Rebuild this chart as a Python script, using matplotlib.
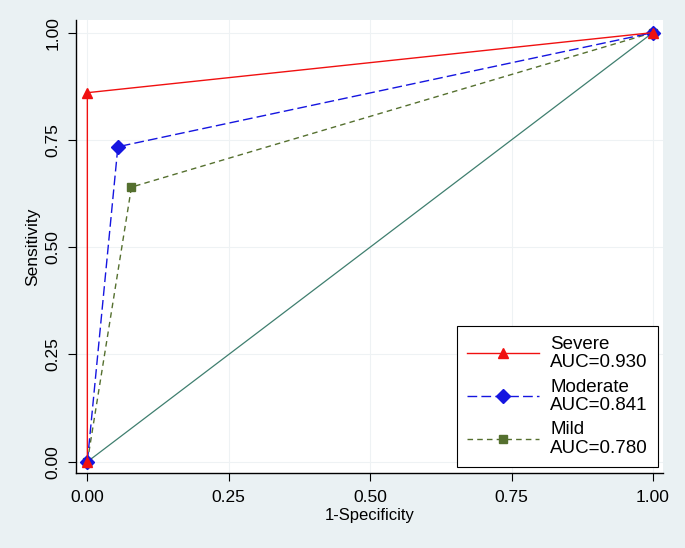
import matplotlib
matplotlib.use("Agg")
import matplotlib.pyplot as plt

# ROC points (1-specificity, sensitivity)
severe_x = [0.0, 0.0, 1.0]
severe_y = [0.0, 0.86, 1.0]
moderate_x = [0.0, 0.054, 1.0]
moderate_y = [0.0, 0.734, 1.0]
mild_x = [0.0, 0.078, 1.0]
mild_y = [0.0, 0.640, 1.0]
ref_x = [0.0, 1.0]
ref_y = [0.0, 1.0]

labels = ["Severe\nAUC=0.930", "Moderate\nAUC=0.841", "Mild\nAUC=0.780"]
ticks = [0.0, 0.25, 0.5, 0.75, 1.0]
tick_labels = ["0.00", "0.25", "0.50", "0.75", "1.00"]

plt.rcParams["font.family"] = ["Liberation Sans", "DejaVu Sans"]

fig = plt.figure(figsize=(6.85, 5.48), dpi=100, facecolor="#eaf1f3")
ax = fig.add_axes([0.111, 0.137, 0.857, 0.827])
ax.set_facecolor("white")

ax.plot(ref_x, ref_y, color="#3f7f6f", linewidth=0.9)
ax.plot(mild_x, mild_y, color="#55702f", linestyle=(0, (4, 3)), linewidth=1.0,
        marker="s", markersize=6, label=labels[2])
ax.plot(moderate_x, moderate_y, color="#1515e0", linestyle=(0, (7, 3)), linewidth=1.0,
        marker="D", markersize=7, label=labels[1])
ax.plot(severe_x, severe_y, color="#f01010", linewidth=1.0,
        marker="^", markersize=7, label=labels[0])

ax.set_xlim(-0.02, 1.018)
ax.set_ylim(-0.026, 1.03)
ax.set_xticks(ticks)
ax.set_xticklabels(tick_labels)
ax.set_yticks(ticks)
ax.set_yticklabels(tick_labels, rotation=90, va="center")
ax.tick_params(labelsize=12.5, length=6, width=0.8, color="black")
ax.tick_params(axis="x", pad=6.5)
ax.tick_params(axis="y", pad=5)
ax.grid(True, color="#eef2f4", linewidth=0.8)
ax.set_axisbelow(True)

for side in ["top", "right"]:
    ax.spines[side].set_visible(False)
for side in ["left", "bottom"]:
    ax.spines[side].set_linewidth(1.0)

ax.set_xlabel("1-Specificity", fontsize=12, labelpad=2)
ax.set_ylabel("Sensitivity", fontsize=12.5, labelpad=4)

handles, labs = ax.get_legend_handles_labels()
order = [2, 1, 0]
leg = ax.legend([handles[i] for i in order], [labs[i] for i in order],
                loc="lower right", bbox_to_anchor=(0.992, 0.013), borderaxespad=0,
                fontsize=13.5, handlelength=3.85, numpoints=1, fancybox=False,
                framealpha=1, edgecolor="black", labelspacing=0.4,
                handletextpad=0.6, borderpad=0.55)
leg.get_frame().set_linewidth(0.8)
for t in leg.get_texts():
    t.set_linespacing(1.1)

fig.savefig("out.png", dpi=100, facecolor=fig.get_facecolor())
